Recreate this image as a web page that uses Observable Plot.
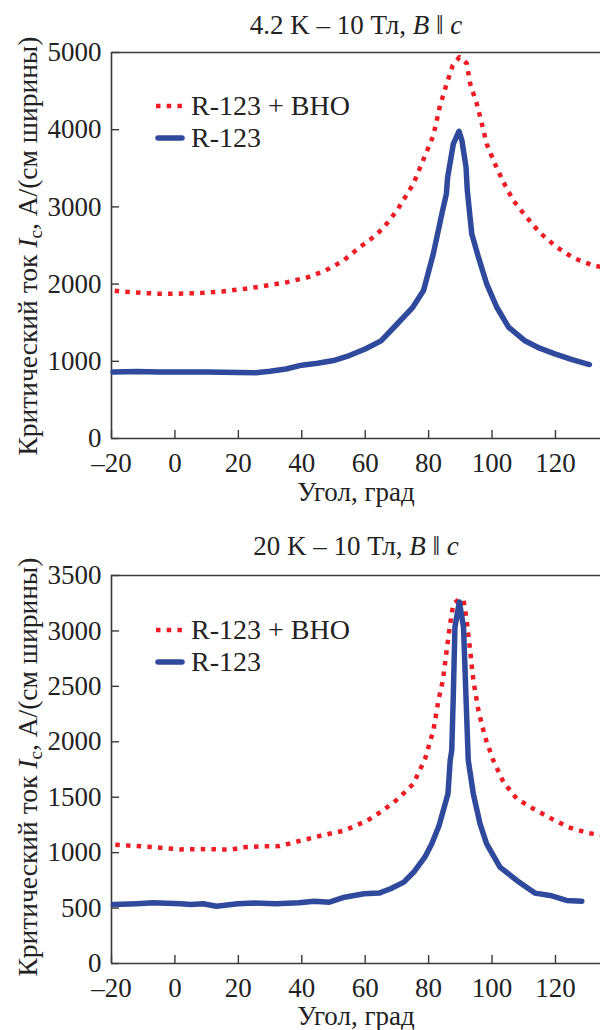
<!DOCTYPE html>
<html>
<head>
<meta charset="utf-8">
<script src="https://cdn.jsdelivr.net/npm/d3@7"></script>
<script src="https://cdn.jsdelivr.net/npm/@observablehq/plot@0.6"></script>
<style>
  html, body { margin: 0; padding: 0; background: #fff; }
  #wrap { position: relative; width: 600px; height: 1030px; overflow: hidden; font-family: "Liberation Serif", "Tinos", "DejaVu Serif", serif; color: #222; }
  .panel { position: absolute; left: 0; }
  .title { position: absolute; font-size: 27px; white-space: nowrap; transform: translateX(-50%); line-height: 1; }
  .xlabel { position: absolute; font-size: 27px; white-space: nowrap; transform: translateX(-50%); line-height: 1; }
  .ylabel { position: absolute; font-size: 27.5px; white-space: nowrap; line-height: 1; transform: translate(-50%, -50%) rotate(-90deg); }
  .ylabel sub { font-size: 19px; vertical-align: -5px; line-height: 0; }
  .leg { position: absolute; font-size: 28px; white-space: nowrap; line-height: 1; display: flex; align-items: center; }
  .leg svg { margin-right: 6px; }
</style>
</head>
<body>
<div id="wrap"></div>
<script>
const FONT = "'Liberation Serif', 'Tinos', 'DejaVu Serif', serif";
// ---- shared axis ticks / names ----
const xTicks = [-20, 0, 20, 40, 60, 80, 100, 120];
const topYTicks = [0, 1000, 2000, 3000, 4000, 5000];
const botYTicks = [0, 500, 1000, 1500, 2000, 2500, 3000, 3500];
const seriesNames = ["R-123 + ВНО", "R-123"];

// ---- data: panel 1 (4.2 K – 10 Тл) ----
const topBlueAngle = [-19.5, -12, -5, 0, 10, 20, 25.5, 30, 35, 40, 45, 50, 55, 60, 65, 70, 75, 78.4, 81.5, 84.2, 85.6, 86, 87.8, 89.6, 90.5, 91.8, 92.2, 93.6, 95.7, 98.3, 101.5, 105.2, 110.2, 115, 119.8, 125, 130.7];
const topBlueIc    = [860, 868, 862, 862, 862, 856, 851, 870, 900, 950, 975, 1010, 1075, 1160, 1265, 1480, 1700, 1917, 2396, 2914, 3170, 3385, 3817, 3980, 3860, 3515, 3212, 2652, 2349, 2004, 1700, 1442, 1270, 1170, 1097, 1025, 958];

const topRedAngle = [-19, -17.6, -10, -4.3, 0, 5, 8.9, 15, 22.2, 28, 35.4, 42, 47.5, 53, 58.3, 62, 65.6, 70, 75.2, 78.9, 81.5, 83.6, 85.7, 87.6, 89.7, 92, 93.1, 95.2, 96.8, 98.3, 100.9, 103.6, 106.7, 110.9, 115.1, 120.4, 125.6, 131.9, 134.5];
const topRedIc    = [1915, 1908, 1885, 1874, 1875, 1880, 1887, 1905, 1939, 1975, 2025, 2090, 2176, 2300, 2478, 2590, 2720, 2953, 3299, 3666, 3925, 4313, 4595, 4832, 4940, 4861, 4595, 4335, 4076, 3817, 3558, 3320, 3083, 2867, 2665, 2478, 2340, 2241, 2222];

// ---- data: panel 2 (20 K – 10 Тл) ----
const botBlueAngle = [-19.4, -12, -6.8, 1.7, 5, 8.9, 13.1, 19.8, 25, 31.8, 39.1, 43.9, 48.7, 53.5, 59.6, 64.4, 68, 72.2, 75.5, 78.8, 81, 83.3, 86.1, 86.8, 87.3, 87.8, 88.3, 89.7, 91, 92.5, 94.1, 96.2, 98.3, 102.5, 107.8, 113.5, 118.3, 123.5, 128.3];
const botBlueIc    = [532, 540, 548, 539, 532, 539, 517, 539, 545, 539, 548, 562, 553, 598, 629, 635, 674, 734, 830, 959, 1080, 1245, 1531, 1832, 1922, 2434, 3035, 3261, 3035, 1832, 1531, 1261, 1080, 869, 749, 635, 614, 569, 562];

const botRedAngle = [-18.8, -12, -6.8, 1.7, 8, 15, 18, 22.2, 27, 33, 39.1, 46.3, 53.5, 60.8, 65.6, 70.4, 75.2, 78.9, 81.5, 83.1, 84.5, 85.7, 86.8, 87.8, 89.5, 91, 92, 93.1, 94.1, 95.7, 97.8, 100.4, 103.6, 107.8, 113, 118.8, 124, 130.3, 134.5];
const botRedIc    = [1071, 1060, 1050, 1029, 1032, 1029, 1030, 1050, 1057, 1059, 1104, 1155, 1200, 1291, 1381, 1486, 1622, 1847, 2103, 2374, 2554, 2825, 3066, 3246, 3282, 3282, 3096, 2825, 2554, 2283, 2042, 1832, 1636, 1486, 1396, 1306, 1230, 1176, 1160];

const BLUE = "#2f4a9c";
const RED = "#ee1c25";
const AXIS = "#3a3a3a";

const zip = (xs, ys) => xs.map((x, i) => ({angle: x, ic: ys[i]}));

function panel({top, height, mTop, mBottom, yMax, yTicks, blue, red}) {
  const mLeft = 111, mRight = 0;
  const innerH = height - mTop - mBottom;
  const innerW = 600 - mLeft - mRight;
  const svg = Plot.plot({
    width: 600,
    height,
    marginTop: mTop,
    marginBottom: mBottom,
    marginLeft: mLeft,
    marginRight: mRight,
    style: {fontFamily: FONT, fontSize: "27px", color: "#222", background: "transparent", overflow: "visible"},
    x: {domain: [-20, 134.2]},
    y: {domain: [0, yMax]},
    marks: [
      Plot.ruleX([-20], {stroke: AXIS, strokeWidth: 1.6}),
      Plot.ruleY([0, yMax], {stroke: AXIS, strokeWidth: 1.6}),
      Plot.tickX(xTicks, {x: d => d, insetTop: innerH - 8, stroke: AXIS, strokeWidth: 1.4}),
      Plot.tickY(yTicks, {y: d => d, insetRight: innerW - 8, stroke: AXIS, strokeWidth: 1.4}),
      Plot.axisX({ticks: xTicks, tickSize: 0, tickPadding: 14, label: null, fontFamily: FONT, fontSize: 27, tickFormat: d => d < 0 ? "–" + Math.abs(d) : String(d)}),
      Plot.axisY({ticks: yTicks, tickSize: 0, tickPadding: 10, label: null, fontFamily: FONT, fontSize: 27, tickFormat: d => String(d)}),
      Plot.line(red, {x: "angle", y: "ic", stroke: RED, strokeWidth: 4.5, strokeDasharray: "4.5,6.2", strokeLinecap: "butt"}),
      Plot.line(blue, {x: "angle", y: "ic", stroke: BLUE, strokeWidth: 5.5, strokeLinejoin: "round", strokeLinecap: "round"})
    ]
  });
  svg.classList.add("panel");
  svg.style.top = top + "px";
  return svg;
}

const wrap = document.getElementById("wrap");

wrap.appendChild(panel({top: 0, height: 520, mTop: 52, mBottom: 82, yMax: 5000, yTicks: topYTicks,
  blue: zip(topBlueAngle, topBlueIc), red: zip(topRedAngle, topRedIc)}));
wrap.appendChild(panel({top: 520, height: 510, mTop: 55, mBottom: 67, yMax: 3500, yTicks: botYTicks,
  blue: zip(botBlueAngle, botBlueIc), red: zip(botRedAngle, botRedIc)}));

function addHTML(html) { wrap.insertAdjacentHTML("beforeend", html); }

const redSw = `<svg width="30" height="10"><line x1="1" y1="5" x2="29" y2="5" stroke="${RED}" stroke-width="4.5" stroke-dasharray="4.5,6.2"/></svg>`;
const blueSw = `<svg width="30" height="10"><line x1="3" y1="5" x2="27" y2="5" stroke="${BLUE}" stroke-width="5.5" stroke-linecap="round"/></svg>`;

// Panel 1 texts
addHTML(`<div class="title" style="left:356px; top:12px;">4.2 K – 10 Тл, <i>B</i> ‖ <i>c</i></div>`);
addHTML(`<div class="xlabel" style="left:356px; top:479px;">Угол, град</div>`);
addHTML(`<div class="ylabel" style="left:28px; top:246px;">Критический ток <i>I</i><sub>c</sub>, А/(см ширины)</div>`);
addHTML(`<div class="leg" style="left:155px; top:92px;">${redSw}${seriesNames[0]}</div>`);
addHTML(`<div class="leg" style="left:155px; top:124px;">${blueSw}${seriesNames[1]}</div>`);

// Panel 2 texts
addHTML(`<div class="title" style="left:356px; top:533px;">20 K – 10 Тл, <i>B</i> ‖ <i>c</i></div>`);
addHTML(`<div class="xlabel" style="left:356px; top:1003px;">Угол, град</div>`);
addHTML(`<div class="ylabel" style="left:28px; top:767px;">Критический ток <i>I</i><sub>c</sub>, А/(см ширины)</div>`);
addHTML(`<div class="leg" style="left:155px; top:616px;">${redSw}${seriesNames[0]}</div>`);
addHTML(`<div class="leg" style="left:155px; top:648px;">${blueSw}${seriesNames[1]}</div>`);
</script>
</body>
</html>
